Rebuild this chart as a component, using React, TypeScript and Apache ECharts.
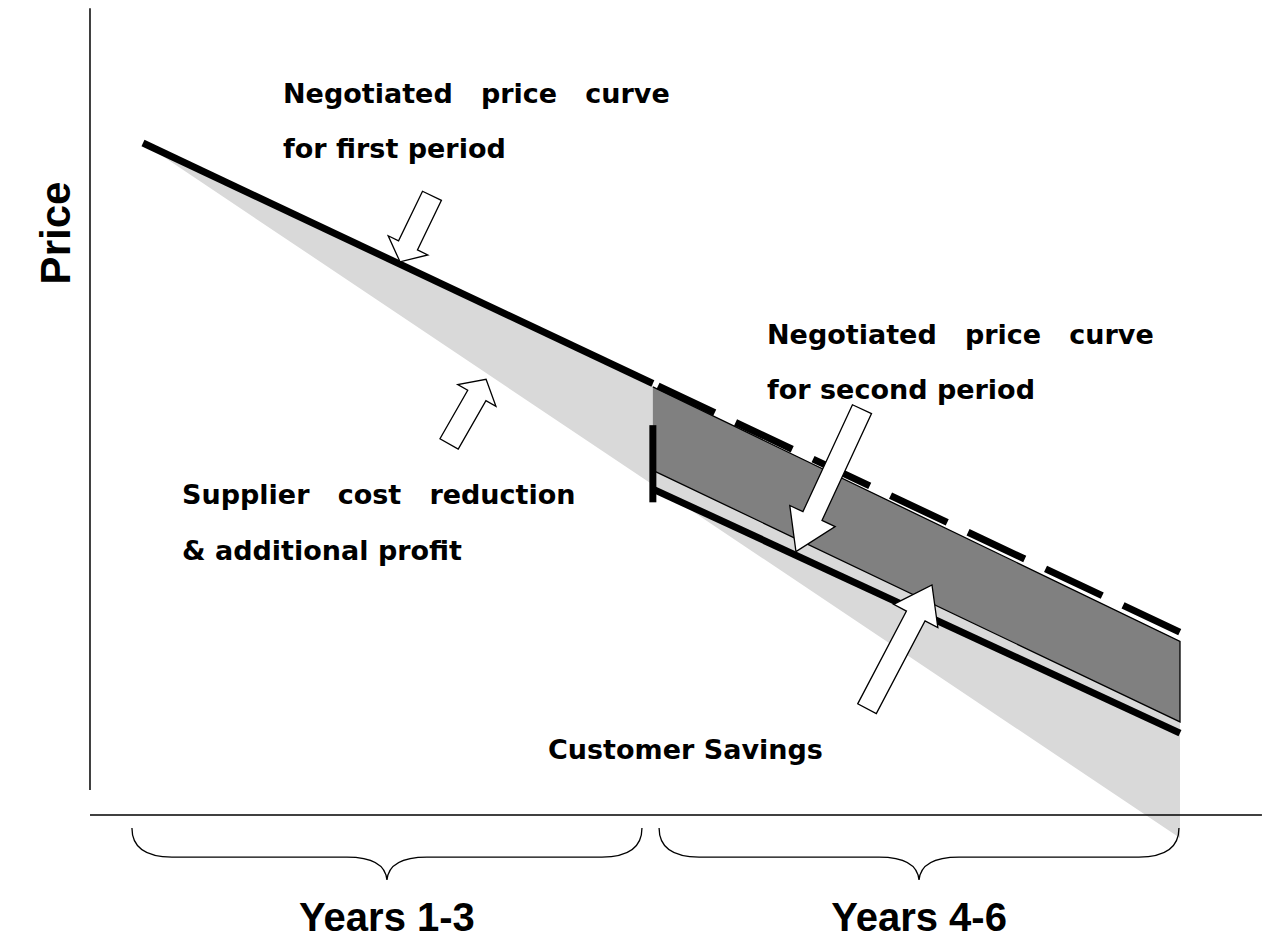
import React, { useEffect, useRef } from "react";
import * as echarts from "echarts";

// x: years since contract start (0..6); y: price index (0..100)
const periodLabels = ["Years 1-3", "Years 4-6"];
const periodStart = [-0.064, 2.986];
const periodEnd = [2.887, 5.994];

const firstCurveYears = [0, 2.95];
const firstCurvePrice = [100, 65.4];
const firstExtYears = [2.98, 6];
const firstExtPrice = [65.05, 29.6];
const secondCurveYears = [2.96, 6];
const secondCurvePrice = [50.1, 15.1];
const supplierCostYears = [0, 6];
const supplierCostPrice = [100, 0];
const bandYears = [2.95, 6];
const bandTopPrice = [64.9, 28.3];
const bandBottomPrice = [52.9, 16.7];
const renegYear = 2.95;
const renegBarPrice = [59.4, 48.3];

const axisYear = -0.3067;
const axisPrice = 3.3;
const yAxisTopPrice = 119.4;
const yAxisBottomPrice = 6.9;
const xAxisEndYear = 6.474;

const arrowFromYear = [1.672, 1.771, 4.16, 4.189];
const arrowFromPrice = [92.4, 56.7, 61.7, 18.6];
const arrowToYear = [1.487, 1.985, 3.778, 4.565];
const arrowToPrice = [82.9, 66.0, 41.2, 36.4];

const labelTexts = [
  "Negotiated   price   curve",
  "for first period",
  "Negotiated   price   curve",
  "for second period",
  "Supplier   cost   reduction",
  "& additional profit",
  "Customer Savings",
];

const LABEL_FONT = 'bold 27px "DejaVu Sans"';
const YEARS_FONT = 'bold 40px "Liberation Sans"';
const PRICE_FONT = 'bold 42px "Liberation Sans"';

// axis extents chosen so the grid fills the whole canvas
const X_MIN = -0.82739;
const X_MAX = 6.54389;
const Y_MIN = -14.388;
const Y_MAX = 120.5755;

function pairs(xs: number[], ys: number[]) {
  return xs.map((x, i) => [x, ys[i]]);
}

export default function App() {
  const ref = useRef<HTMLDivElement>(null);
  useEffect(() => {
    document.body.style.margin = "0";
    const chart = echarts.init(ref.current!, null, { renderer: "svg" });

    const labelPos = [
      [283, 93],
      [283, 148],
      [767, 334],
      [767, 389],
      [182, 494],
      [182, 550],
      [548, 749],
    ];

    const solid = (data: number[][], width: number, extra: any = {}) => ({
      type: "line",
      data,
      symbol: "none",
      clip: false,
      silent: true,
      lineStyle: { color: "#000", width, cap: "butt", ...extra },
      z: 5,
    });

    const txtStyle = (text: string, font: string, align: string) => ({
      text,
      font,
      fill: "#000",
      align,
      verticalAlign: "middle",
      textAlign: align,
      textVerticalAlign: "middle",
    });

    const option: any = {
      animation: false,
      backgroundColor: "#fff",
      grid: { left: 0, right: 0, top: 0, bottom: 0 },
      xAxis: { type: "value", min: X_MIN, max: X_MAX, show: false },
      yAxis: { type: "value", min: Y_MIN, max: Y_MAX, show: false },
      graphic: [
        ...labelTexts.map((t, i) => ({
          type: "text",
          x: labelPos[i][0],
          y: labelPos[i][1],
          style: txtStyle(t, LABEL_FONT, "left"),
        })),
        {
          type: "text",
          x: 55,
          y: 233,
          rotation: Math.PI / 2,
          style: txtStyle("Price", PRICE_FONT, "center"),
        },
      ],
      series: [
        {
          type: "custom",
          clip: false,
          silent: true,
          z: 1,
          data: [[0, 0]],
          renderItem: (_p: any, api: any) => {
            const c = (x: number, y: number) => api.coord([x, y]);
            const light = [
              c(supplierCostYears[0], supplierCostPrice[0]),
              c(firstCurveYears[1], firstCurvePrice[1]),
              c(bandYears[0], bandTopPrice[0]),
              c(bandYears[1], bandTopPrice[1]),
              c(supplierCostYears[1], supplierCostPrice[1]),
            ];
            const band = [
              c(bandYears[0], bandTopPrice[0]),
              c(bandYears[1], bandTopPrice[1]),
              c(bandYears[1], bandBottomPrice[1]),
              c(bandYears[0], bandBottomPrice[0]),
            ];
            return {
              type: "group",
              children: [
                { type: "polygon", shape: { points: light }, style: { fill: "#d9d9d9" } },
                { type: "polygon", shape: { points: band }, style: { fill: "#808080" } },
                {
                  type: "polyline",
                  shape: { points: [band[0], band[1], band[2], band[3]] },
                  style: { fill: null, stroke: "#000", lineWidth: 1.3 },
                },
              ],
            };
          },
        },
        solid(pairs(firstCurveYears, firstCurvePrice), 7),
        solid(pairs(firstExtYears, firstExtPrice), 7, { type: [62.7, 23] }),
        solid(pairs(secondCurveYears, secondCurvePrice), 7),
        solid(
          [
            [renegYear, renegBarPrice[0]],
            [renegYear, renegBarPrice[1]],
          ],
          7
        ),
        solid(
          [
            [axisYear, yAxisTopPrice],
            [axisYear, yAxisBottomPrice],
          ],
          1.5
        ),
        solid(
          [
            [axisYear, axisPrice],
            [xAxisEndYear, axisPrice],
          ],
          1.5
        ),
        {
          type: "custom",
          clip: false,
          silent: true,
          z: 10,
          data: arrowFromYear.map((x, i) => [x, arrowFromPrice[i], arrowToYear[i], arrowToPrice[i]]),
          renderItem: (_p: any, api: any) => {
            const s = api.coord([api.value(0), api.value(1)]);
            const t = api.coord([api.value(2), api.value(3)]);
            const dx = t[0] - s[0];
            const dy = t[1] - s[1];
            const L = Math.sqrt(dx * dx + dy * dy);
            const ux = dx / L;
            const uy = dy / L;
            const nx = -uy;
            const ny = ux;
            const hl = L * 0.25;
            const sw = 10.5;
            const hw = L > 120 ? 25 : 22;
            const bx = t[0] - ux * hl;
            const by = t[1] - uy * hl;
            const pts = [
              [s[0] + nx * sw, s[1] + ny * sw],
              [bx + nx * sw, by + ny * sw],
              [bx + nx * hw, by + ny * hw],
              [t[0], t[1]],
              [bx - nx * hw, by - ny * hw],
              [bx - nx * sw, by - ny * sw],
              [s[0] - nx * sw, s[1] - ny * sw],
            ];
            return {
              type: "polygon",
              shape: { points: pts },
              style: { fill: "#fff", stroke: "#000", lineWidth: 1.3 },
            };
          },
        },
        {
          type: "custom",
          clip: false,
          silent: true,
          z: 10,
          data: periodStart.map((x, i) => [x, periodEnd[i], i]),
          renderItem: (_p: any, api: any) => {
            const a = api.coord([api.value(0), axisPrice]);
            const b = api.coord([api.value(1), axisPrice]);
            const idx = api.value(2);
            const x0 = a[0];
            const x1 = b[0];
            const ay = a[1];
            const top = ay + 13;
            const flat = ay + 42;
            const tip = ay + 65;
            const mid = (x0 + x1) / 2;
            const r = 40;
            const d =
              `M${x0},${top} Q${x0},${flat} ${x0 + r},${flat} L${mid - r},${flat} ` +
              `Q${mid - 2},${flat} ${mid},${tip} Q${mid + 2},${flat} ${mid + r},${flat} ` +
              `L${x1 - r},${flat} Q${x1},${flat} ${x1},${top}`;
            return {
              type: "group",
              children: [
                {
                  type: "path",
                  shape: { pathData: d },
                  style: { fill: null, stroke: "#000", lineWidth: 1.3 },
                },
                {
                  type: "text",
                  x: mid,
                  y: ay + 102,
                  style: txtStyle(periodLabels[idx], YEARS_FONT, "center"),
                },
              ],
            };
          },
        },
      ],
    };
    chart.setOption(option);
    return () => chart.dispose();
  }, []);
  return <div ref={ref} style={{ width: 1274, height: 938 }} />;
}
